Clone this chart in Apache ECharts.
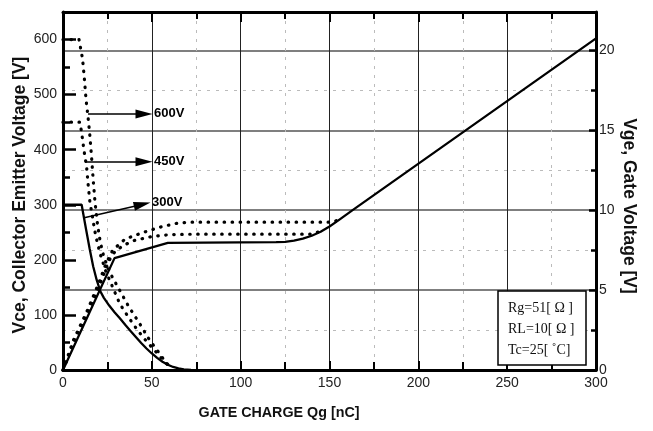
<!DOCTYPE html>
<html>
<head>
<meta charset="utf-8">
<script src="https://cdn.jsdelivr.net/npm/echarts@6/dist/echarts.min.js"></script>
<style>html,body{margin:0;padding:0;background:#fff;}#c{width:653px;height:431px;}</style>
</head>
<body>
<div id="c"></div>
<script>
// ---- data (x = gate charge nC) ----
const xTicks = [0, 50, 100, 150, 200, 250, 300];
const vceTicks = [0, 100, 200, 300, 400, 500, 600];
const vgeTicks = [0, 5, 10, 15, 20];

// Vce curves (left axis, V)
const vce300 = [[0,300],[10.5,300],[11.5,282],[13,255],[15,220],[17,188],[19,163],[21,143],[23,131],[26,117],[29,105],[32,94],[35,82],[38,71],[41,60],[44,49],[47,39],[50,30],[53,22],[56,15],[59,9.5],[62,5.5],[65,3],[68,1.2],[72,0]];
const vce450 = [[0,450],[9.5,450],[10.5,431],[11.8,399],[13.3,368],[14.2,335],[15.2,303],[16.2,286],[17.6,258],[18.6,241],[21,210],[24,180],[28,150],[32,120],[37,95],[42,72],[47,52],[52,34],[56,19],[59,9],[61,4]];
const vce600 = [[0,600],[9,600],[10,598],[11,565],[12,530],[13,490],[14,462],[15,430],[16,390],[17,345],[18,305],[19.5,262],[21,232],[23,205],[26.5,176],[31.5,147],[37,115],[43,85],[49,53],[53,36],[56.5,20],[59,10],[61,5]];

// Vge curves (right axis, V)
const vge300 = [[0,0],[29,7.0],[59,7.96],[120,8.0],[125,8.02],[130,8.1],[135,8.22],[140,8.4],[145,8.65],[150,8.98],[155,9.36],[163,10.0],[300,20.75]];
const vge450 = [[0,0],[6,1.7],[14,3.6],[20,5.1],[24,6.3],[27,7.1],[30,7.5],[35,7.85],[40,8.1],[50,8.35],[60,8.47],[75,8.5],[140,8.5],[146,8.72]];
const vge600 = [[0,0],[6,1.9],[14,3.8],[20,5.4],[24,6.6],[28,7.5],[35,8.2],[45,8.6],[55,8.95],[65,9.2],[72,9.25],[152,9.25],[157,9.5]];

// annotation arrows [label, [x0,v0], [x1,v1]] in left-axis units (x1,v1 = arrowhead centre)
const arrows = [
  ['600V', [14.1, 465], [45.6, 465]],
  ['450V', [12.4, 378], [45.6, 378]],
  ['300V', [11.3, 276], [44.6, 300.5]]
];
const conditions = ['Rg=51[ Ω ]', 'RL=10[ Ω ]', 'Tc=25[ ˚C]'];

const FONT = "'Liberation Sans', Arial, sans-serif";
const chart = echarts.init(document.getElementById('c'), null, {renderer: 'canvas'});

const dotted = {type: [0.5, 7.5], cap: 'round', width: 3.2, color: '#000'};
const solid = {type: 'solid', width: 2.3, color: '#000'};

function lineSeries(data, yIdx, style, extra) {
  return Object.assign({
    type: 'line', data: data, yAxisIndex: yIdx, xAxisIndex: 0,
    showSymbol: false, symbol: 'none', smooth: false,
    lineStyle: style, silent: true, animation: false, z: 5
  }, extra || {});
}

const arrowLines = arrows.map(a => [
  {coord: a[1], symbol: 'none'},
  {coord: a[2], symbol: 'triangle', symbolSize: [9, 17],
   label: {show: true, position: 'end', formatter: a[0], distance: 10,
           fontFamily: FONT, fontWeight: 'bold', fontSize: 13, color: '#000'}}
]);

const option = {
  animation: false,
  backgroundColor: '#fff',
  grid: {left: 63, right: 57, top: 12, bottom: 61, show: false},
  xAxis: [{
    type: 'value', min: 0, max: 300, interval: 50, position: 'bottom',
    axisLine: {show: true, onZero: false, lineStyle: {color: '#000', width: 3}},
    axisTick: {show: true, inside: true, length: 9, lineStyle: {color: '#000', width: 2}},
    minorTick: {show: true, splitNumber: 2, length: 8, lineStyle: {color: '#000', width: 2}},
    axisLabel: {show: true, margin: 6, fontFamily: FONT, fontSize: 14, color: '#222',
      formatter: v => xTicks.indexOf(v) >= 0 ? String(v) : ''},
    splitLine: {show: true, lineStyle: {color: '#222', width: 1}},
    minorSplitLine: {show: true, lineStyle: {color: '#bbb', width: 1, type: [3, 6]}}
  }, {
    type: 'value', min: 0, max: 300, interval: 50, position: 'top',
    axisLine: {show: true, onZero: false, lineStyle: {color: '#000', width: 3}},
    axisTick: {show: true, inside: true, length: 10, lineStyle: {color: '#000', width: 2}},
    minorTick: {show: true, splitNumber: 2, length: 7, lineStyle: {color: '#000', width: 2}},
    axisLabel: {show: false},
    splitLine: {show: false}
  }],
  yAxis: [{
    type: 'value', min: 0, max: 650, interval: 100, position: 'left',
    axisLine: {show: true, onZero: false, lineStyle: {color: '#000', width: 3}},
    axisTick: {show: true, inside: true, length: 13, lineStyle: {color: '#000', width: 2.5}},
    minorTick: {show: true, splitNumber: 2, length: 7, lineStyle: {color: '#000', width: 2.5}},
    axisLabel: {show: true, margin: 6, fontFamily: FONT, fontSize: 14, color: '#222',
      formatter: v => vceTicks.indexOf(v) >= 0 ? String(v) : ''},
    splitLine: {show: false}
  }, {
    type: 'value', min: 0, max: 22.4, interval: 5, position: 'right',
    axisLine: {show: true, onZero: false, lineStyle: {color: '#000', width: 3}},
    axisTick: {show: true, inside: true, length: 7, lineStyle: {color: '#000', width: 2.5}},
    minorTick: {show: true, splitNumber: 2, length: 5, lineStyle: {color: '#000', width: 2.5}},
    axisLabel: {show: true, margin: 3, fontFamily: FONT, fontSize: 14, color: '#222',
      formatter: v => vgeTicks.indexOf(v) >= 0 ? String(v) : ''},
    splitLine: {show: true, lineStyle: {color: '#555', width: 1.5}},
    minorSplitLine: {show: true, lineStyle: {color: '#bbb', width: 1, type: [3, 6]}}
  }],
  series: [
    lineSeries(vce300, 0, solid, {
      markLine: {silent: true, animation: false, symbol: ['none', 'triangle'],
        lineStyle: {type: 'solid', color: '#000', width: 1.5},
        itemStyle: {color: '#000'},
        data: arrowLines}
    }),
    lineSeries(vce450, 0, dotted),
    lineSeries(vce600, 0, dotted),
    lineSeries(vge300, 1, solid),
    lineSeries(vge450, 1, dotted),
    lineSeries(vge600, 1, dotted)
  ],
  graphic: [
    {type: 'text', x: 20, y: 195, rotation: Math.PI / 2,
     style: {text: 'Vce, Collector Emitter Voltage [V]', fontFamily: FONT, fontWeight: 'bold', fontSize: 17.5,
             fill: '#111', textAlign: 'center', textVerticalAlign: 'middle'}},
    {type: 'text', x: 629, y: 206, rotation: -Math.PI / 2,
     style: {text: 'Vge, Gate Voltage [V]', fontFamily: FONT, fontWeight: 'bold', fontSize: 17.5,
             fill: '#111', textAlign: 'center', textVerticalAlign: 'middle'}},
    {type: 'text', x: 279, y: 413,
     style: {text: 'GATE CHARGE Qg [nC]', fontFamily: FONT, fontWeight: 'bold', fontSize: 14.3,
             fill: '#111', textAlign: 'center', textVerticalAlign: 'middle'}},
    {type: 'rect', shape: {x: 498, y: 291, width: 88, height: 74}, z: 10,
     style: {fill: '#fff', stroke: '#000', lineWidth: 1.5}},
    ...conditions.map((t, i) => ({type: 'text', x: 508, y: 308 + i * 21, z: 11,
     style: {text: t, fontFamily: "'Liberation Serif', 'Times New Roman', serif", fontSize: 14,
             fill: '#111', textAlign: 'left', textVerticalAlign: 'middle'}}))
  ]
};
chart.setOption(option);
</script>
</body>
</html>
